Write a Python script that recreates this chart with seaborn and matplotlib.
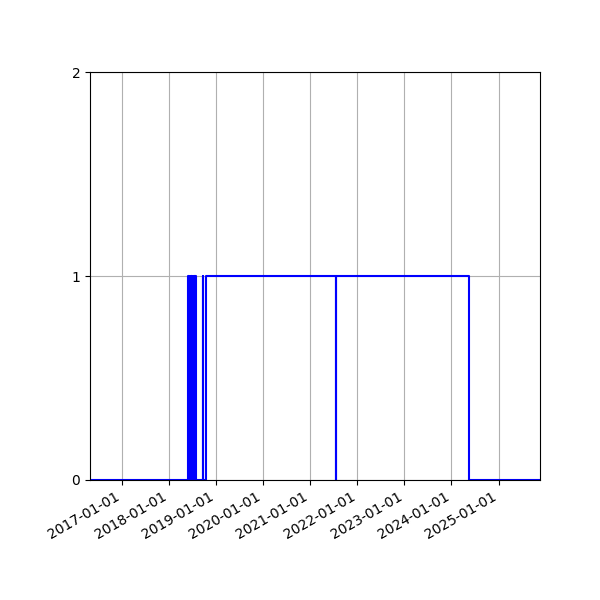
import matplotlib
matplotlib.use("Agg")
import matplotlib.pyplot as plt
import matplotlib.dates as mdates
import seaborn as sns
import pandas as pd

change_dates = [
    "2016-04-28",
    "2018-05-30", "2018-06-02", "2018-06-05", "2018-06-08", "2018-06-11",
    "2018-06-14", "2018-06-17", "2018-06-20", "2018-06-23", "2018-06-26",
    "2018-06-29", "2018-07-02", "2018-07-05", "2018-07-08", "2018-07-11",
    "2018-07-14", "2018-07-17", "2018-07-20", "2018-07-23", "2018-07-26",
    "2018-09-21", "2018-09-23",
    "2018-10-13",
    "2021-07-18", "2021-07-22",
    "2024-05-17",
    "2025-11-18",
]
states = [
    0,
    1, 0, 1, 0, 1,
    0, 1, 0, 1, 0,
    1, 0, 1, 0, 1,
    0, 1, 0, 1, 0,
    1, 0,
    1,
    0, 1,
    0,
    0,
]
y_ticks = [0, 1, 2]

df = pd.DataFrame({"date": pd.to_datetime(change_dates), "state": states})

fig, ax = plt.subplots(figsize=(6, 6), dpi=100)
sns.lineplot(data=df, x="date", y="state", drawstyle="steps-post",
             color="blue", linewidth=1.5, estimator=None, ax=ax)
ax.set_xlim(df["date"].iloc[0], df["date"].iloc[-1])
ax.set_ylim(0, 2)
ax.set_yticks(y_ticks)
ax.xaxis.set_major_locator(mdates.YearLocator())
ax.xaxis.set_major_formatter(mdates.DateFormatter("%Y-%m-%d"))
ax.grid(True)
ax.set_xlabel("")
ax.set_ylabel("")
fig.autofmt_xdate()
fig.subplots_adjust(left=0.15, right=0.9, bottom=0.2, top=0.88)
fig.savefig("out.png", dpi=100)
